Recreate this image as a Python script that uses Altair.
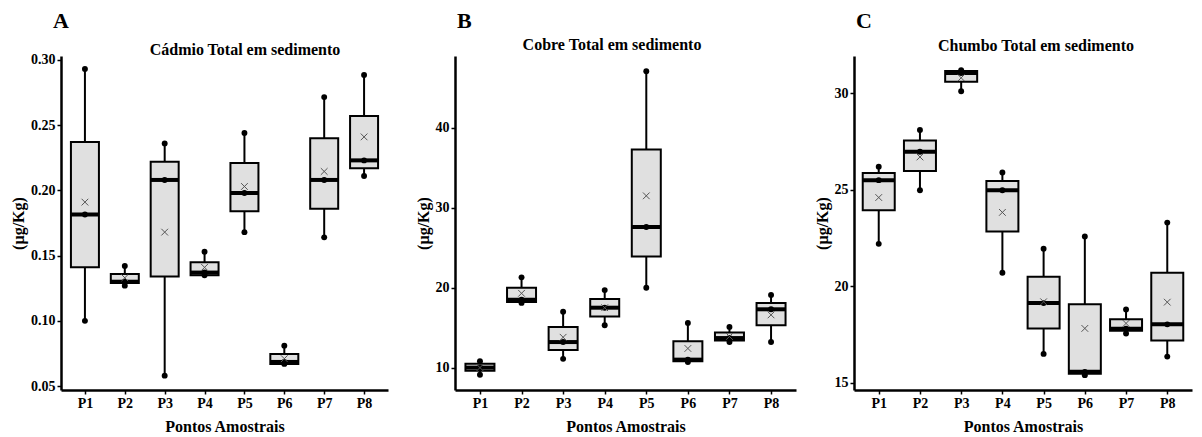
import altair as alt
import pandas as pd

pontos = ["P1", "P2", "P3", "P4", "P5", "P6", "P7", "P8"]

# Cádmio (A)
cd_min = [0.100, 0.127, 0.058, 0.135, 0.168, 0.067, 0.164, 0.211]
cd_q1 = [0.141, 0.129, 0.134, 0.135, 0.184, 0.067, 0.186, 0.217]
cd_med = [0.1815, 0.130, 0.208, 0.137, 0.198, 0.0685, 0.208, 0.223]
cd_q3 = [0.237, 0.136, 0.222, 0.145, 0.221, 0.0745, 0.240, 0.257]
cd_max = [0.293, 0.142, 0.236, 0.153, 0.244, 0.081, 0.2715, 0.2885]
cd_mean = [0.191, 0.133, 0.168, 0.141, 0.203, 0.071, 0.2145, 0.241]
cd_ticks = [0.05, 0.10, 0.15, 0.20, 0.25, 0.30]

# Cobre (B)
cu_min = [9.1, 18.1, 11.1, 15.3, 20.0, 10.7, 13.2, 13.2]
cu_q1 = [9.6, 18.2, 12.2, 16.4, 23.9, 10.8, 13.4, 15.3]
cu_med = [10.0, 18.5, 13.2, 17.5, 27.6, 11.0, 13.7, 17.3]
cu_q3 = [10.5, 20.0, 15.1, 18.6, 37.3, 13.3, 14.4, 18.1]
cu_max = [10.8, 21.3, 17.0, 19.7, 47.1, 15.6, 15.1, 19.1]
cu_mean = [10.0, 19.3, 13.8, 17.5, 31.5, 12.4, 13.9, 16.6]
cu_ticks = [10, 20, 30, 40]

# Chumbo (C)
pb_min = [22.2, 24.98, 30.1, 20.7, 16.5, 15.4, 17.56, 16.36]
pb_q1 = [23.94, 25.97, 30.6, 22.84, 17.82, 15.47, 17.7, 17.2]
pb_med = [25.5, 26.97, 31.05, 24.98, 19.13, 15.57, 17.8, 18.03]
pb_q3 = [25.87, 27.55, 31.15, 25.45, 20.49, 19.07, 18.3, 20.7]
pb_max = [26.2, 28.1, 31.2, 25.9, 21.95, 22.58, 18.8, 23.3]
pb_mean = [24.6, 26.7, 30.8, 23.83, 19.2, 17.82, 18.08, 19.18]
pb_ticks = [15, 20, 25, 30]

FONT = "Liberation Serif"


def panel(letter, title, mins, q1s, meds, q3s, maxs, means, domain, ticks, fmt,
          width, height, box, tx, ty, lx):
    df = pd.DataFrame({"ponto": pontos, "vmin": mins, "q1": q1s, "med": meds,
                       "q3": q3s, "vmax": maxs, "media": means})
    base = alt.Chart(df)
    x = alt.X("ponto:N", sort=pontos,
              scale=alt.Scale(type="point", padding=0.6),
              axis=alt.Axis(title="Pontos Amostrais", labelAngle=0, titlePadding=8))
    yscale = alt.Scale(domain=domain, nice=False, zero=False)
    yaxis = alt.Axis(title="(µg/Kg)", values=ticks, format=fmt, titlePadding=4)

    def Y(field):
        return alt.Y(field, scale=yscale, axis=yaxis, title="(µg/Kg)")

    whisk = base.mark_rule(color="black", strokeWidth=2).encode(
        x=x, y=Y("vmin:Q"), y2="vmax:Q")
    boxes = base.mark_bar(size=box, fill="#e0e0e0", stroke="black", strokeWidth=2).encode(
        x=x, y=Y("q1:Q"), y2="q3:Q")
    med = base.mark_tick(color="black", thickness=4, size=box, opacity=1).encode(
        x=x, y=Y("med:Q"))
    pts = base.transform_fold(["vmin", "vmax", "med"], as_=["k", "v"]).mark_point(
        filled=True, color="black", size=35, opacity=1).encode(x=x, y=Y("v:Q"))
    mean = base.mark_point(shape="M-1,-1L1,1M1,-1L-1,1", color="#555555", size=45,
                           strokeWidth=1, opacity=1).encode(x=x, y=Y("media:Q"))
    texts = pd.DataFrame({"t": [letter, title]})
    lab = alt.Chart(texts).transform_filter(alt.datum.t == letter).mark_text(
        font=FONT, fontSize=22, fontWeight="bold", align="left", baseline="alphabetic",
        color="black").encode(x=alt.value(lx), y=alt.value(-28), text="t:N")
    ttl = alt.Chart(texts).transform_filter(alt.datum.t == title).mark_text(
        font=FONT, fontSize=16, fontWeight="bold", align="center", baseline="alphabetic",
        color="black").encode(x=alt.value(tx), y=alt.value(ty), text="t:N")
    return alt.layer(whisk, boxes, med, pts, mean, lab, ttl).properties(
        width=width, height=height)


A = panel("A", "Cádmio Total em sedimento", cd_min, cd_q1, cd_med, cd_q3, cd_max, cd_mean,
          [0.047, 0.303], cd_ticks, ".2f", 327, 334, 28, 184, -1, -8)
B = panel("B", "Cobre Total em sedimento", cu_min, cu_q1, cu_med, cu_q3, cu_max, cu_mean,
          [7.2, 49.0], cu_ticks, "d", 341, 334, 29, 157, -6, 2)
C = panel("C", "Chumbo Total em sedimento", pb_min, pb_q1, pb_med, pb_q3, pb_max, pb_mean,
          [14.63, 31.93], pb_ticks, "d", 338, 334, 32, 182, -5, 2)

chart = alt.hconcat(alt.hconcat(A, B, spacing=27), C, spacing=18).properties(
    padding={"left": 2, "top": 2, "right": 2, "bottom": 0}
).configure_axis(
    domainColor="black", domainWidth=2.5, tickColor="black", tickWidth=1.5, tickSize=4,
    labelFont=FONT, labelFontSize=14, labelFontWeight="bold", labelColor="black",
    labelPadding=2, titleFont=FONT, titleFontSize=16, titleFontWeight="bold",
    titleColor="black", grid=False
).configure_view(stroke=None)

chart.save("out.html", embed_options={"renderer": "svg", "actions": False})
